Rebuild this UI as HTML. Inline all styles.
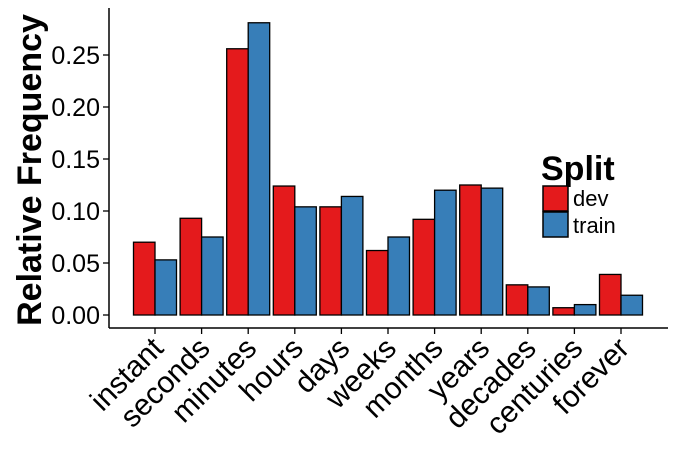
<!DOCTYPE html>
<html><head><meta charset="utf-8"><style>
body{margin:0;background:#fff;}
svg{display:block;font-family:"Liberation Sans",Arial,sans-serif;}
</style></head><body>
<svg id="chart" width="677" height="452" viewBox="0 0 677 452">
<g id="marks"></g>
<g id="axes"></g>
<text transform="translate(41,170) rotate(-90)" text-anchor="middle" font-size="34" font-weight="bold">Relative Frequency</text>
<g>
<text x="541" y="180" font-size="34" font-weight="bold">Split</text>
<rect x="543" y="186" width="25" height="25" fill="#E41A1C" stroke="#000" stroke-width="1.5"/>
<text x="573" y="206" font-size="22">dev</text>
<rect x="543" y="212" width="25" height="25" fill="#377EB8" stroke="#000" stroke-width="1.5"/>
<text x="573" y="233" font-size="22">train</text>
</g>
</svg>
<script>
const categories=["instant","seconds","minutes","hours","days","weeks","months","years","decades","centuries","forever"];
const devValues=[0.070,0.093,0.256,0.124,0.104,0.062,0.092,0.125,0.029,0.007,0.039];
const trainValues=[0.053,0.075,0.281,0.104,0.114,0.075,0.120,0.122,0.027,0.010,0.019];
const yTicks=[0,0.05,0.10,0.15,0.20,0.25];
const yTickLabels=["0.00","0.05","0.10","0.15","0.20","0.25"];
const NS="http://www.w3.org/2000/svg";
const y0=315, pxPerUnit=1040;
function yScale(v){return y0-v*pxPerUnit;}
function xScale(i){return 155+i*46.6;}
const barW=21.5;
const marks=document.getElementById('marks');
const axes=document.getElementById('axes');
function mk(tag,attrs,parent){const e=document.createElementNS(NS,tag);for(const k in attrs)e.setAttribute(k,attrs[k]);parent.appendChild(e);return e;}
categories.forEach((c,i)=>{
  const cx=xScale(i);
  const d=mk('rect',{x:cx-barW,y:yScale(devValues[i]),width:barW,height:yScale(0)-yScale(devValues[i]),fill:'#E41A1C',stroke:'#000','stroke-width':1.3},marks);
  
  
  const t=mk('rect',{x:cx,y:yScale(trainValues[i]),width:barW,height:yScale(0)-yScale(trainValues[i]),fill:'#377EB8',stroke:'#000','stroke-width':1.3},marks);
  
  
  const tk=mk('line',{x1:cx,x2:cx,y1:328,y2:334,stroke:'#000','stroke-width':1.3},axes);
  
  
  const lb=mk('text',{transform:`translate(${cx+10},${350}) rotate(-45)`,'text-anchor':'end','font-size':30},axes);
  lb.textContent=c;
  
  
});
yTicks.forEach((v,i)=>{
  const y=yScale(v);
  const tk=mk('line',{x1:103,x2:109,y1:y,y2:y,stroke:'#000','stroke-width':1.3},axes);
  
  
  const lb=mk('text',{x:100,y:y+9,'text-anchor':'end','font-size':25},axes);
  lb.textContent=yTickLabels[i];
  
  
});
const ya=mk('line',{x1:109,x2:109,y1:8,y2:328,stroke:'#000','stroke-width':1.5},axes);


const xa=mk('line',{x1:109,x2:668,y1:328,y2:328,stroke:'#000','stroke-width':1.5},axes);


</script>
</body></html>
